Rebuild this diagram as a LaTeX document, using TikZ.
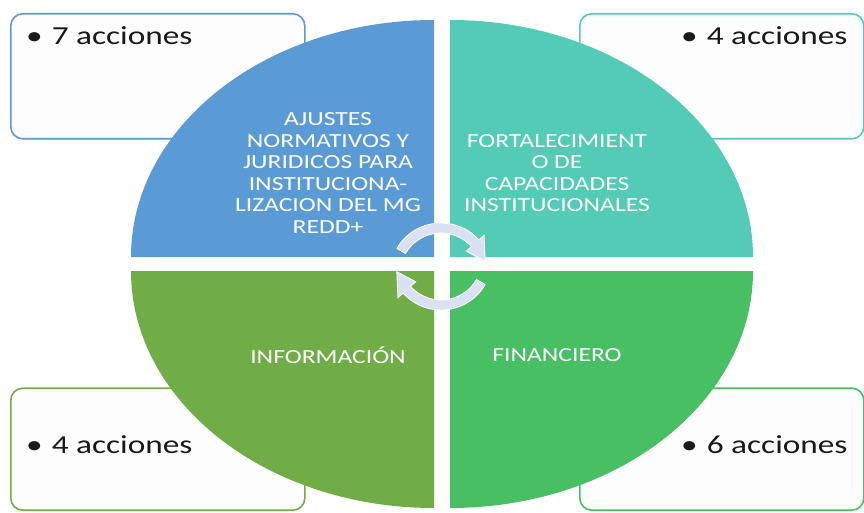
\documentclass[tikz,border=0pt]{standalone}
\usepackage{fontspec}
\newfontfamily\wfont[FakeStretch=1.28]{Carlito}
\definecolor{qblue}{HTML}{5B9BD5}
\definecolor{qteal}{HTML}{54CBB7}
\definecolor{qgreen}{HTML}{70AD47}
\definecolor{qgreenb}{HTML}{48BF63}
\definecolor{arrowfill}{HTML}{D9E1F2}
\definecolor{boxfill}{HTML}{FDFDFD}
\definecolor{txt}{HTML}{1A1A1A}
\begin{document}
\begin{tikzpicture}[x=1pt,y=1pt,
  sidebox/.style={draw, line width=1.6pt, rounded corners=12pt, fill=boxfill, inner sep=0pt},
  boxtext/.style={font=\wfont\fontsize{26}{30}\selectfont, text=txt, inner sep=0pt, anchor=base west},
  quadtext/.style={font=\wfont\fontsize{20}{21.5}\selectfont, text=white, align=center, inner sep=0pt},
  cyc/.style={fill=arrowfill, draw=white, line width=0.8pt}]
\fill[white] (0,0) rectangle (864,512);
\useasboundingbox (0,0) rectangle (864,512);
% side boxes
\node[sidebox, draw=qblue, minimum width=294pt, minimum height=125pt, anchor=north west] (tl) at (10,499) {};
\node[sidebox, draw=qteal, minimum width=284pt, minimum height=125pt, anchor=north west] (tr) at (579,499) {};
\node[sidebox, draw=qgreen, minimum width=294pt, minimum height=122pt, anchor=south west] (bl) at (10,1) {};
\node[sidebox, draw=qgreenb, minimum width=284pt, minimum height=122pt, anchor=south west] (br) at (579,1) {};
\node[boxtext] (t1) at (26,467) {•\hspace{9pt}7 acciones};
\node[boxtext] (t2) at (681,467) {•\hspace{9pt}4 acciones};
\node[boxtext] (t3) at (26,59) {•\hspace{9pt}4 acciones};
\node[boxtext] (t4) at (681,59) {•\hspace{9pt}6 acciones};
% quadrants
\fill[qblue] (434,255) -- (131,255) arc[start angle=180, end angle=90, x radius=303, y radius=237] -- cycle;
\fill[qteal] (450,255) -- (450,492) arc[start angle=90, end angle=0, x radius=303, y radius=237] -- cycle;
\fill[qgreen] (434,241) -- (131,241) arc[start angle=180, end angle=270, x radius=303, y radius=237] -- cycle;
\fill[qgreenb] (450,241) -- (450,4) arc[start angle=270, end angle=360, x radius=303, y radius=237] -- cycle;
\node[quadtext] (q1) at (328,339) {AJUSTES\\NORMATIVOS Y\\JURIDICOS PARA\\INSTITUCIONA-\\LIZACION DEL MG\\REDD+};
\node[quadtext] (q2) at (557,339) {FORTALECIMIENT\\O DE\\CAPACIDADES\\INSTITUCIONALES};
\node[quadtext] (q3) at (328,157) {INFORMACIÓN};
\node[quadtext] (q4) at (557,157) {FINANCIERO};
% cycle arrows
\begin{scope}[shift={(441,238)}]
\path[cyc] (150:51) arc[start angle=150, end angle=42, radius=51] -- (42:58) -- (16:46) -- (42:34) -- (42:41) arc[start angle=42, end angle=150, radius=41] -- cycle;
\end{scope}
\begin{scope}[shift={(441,253)}, rotate=180]
\path[cyc] (150:51) arc[start angle=150, end angle=42, radius=51] -- (42:58) -- (16:46) -- (42:34) -- (42:41) arc[start angle=42, end angle=150, radius=41] -- cycle;
\end{scope}
\end{tikzpicture}
\end{document}
